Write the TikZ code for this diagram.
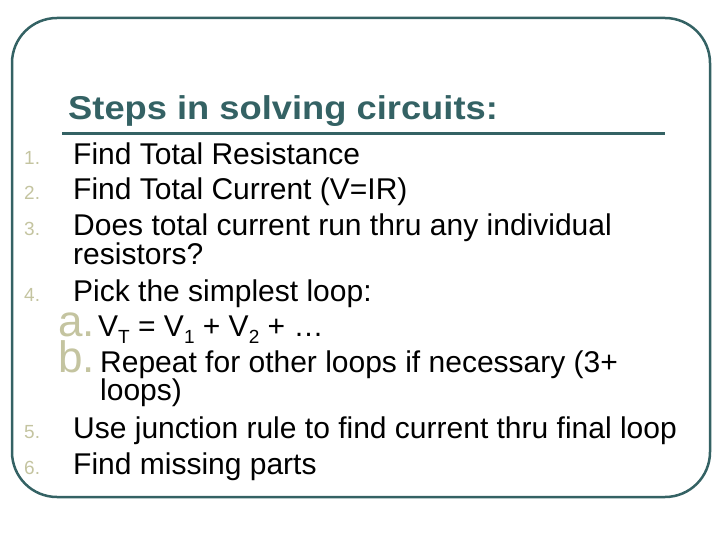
\documentclass[tikz,border=0pt]{standalone}
\usepackage{fontspec}
\setmainfont{Liberation Sans}
\definecolor{teal1}{RGB}{52,98,100}
\definecolor{numc}{RGB}{196,196,160}
\newcommand{\mysub}[1]{\raisebox{-0.25em}{\fontsize{19}{19}\selectfont #1}}
\begin{document}
\begin{tikzpicture}[x=1pt,y=-1pt,
  txt/.style={anchor=base west,inner sep=0,font=\fontsize{30}{30}\selectfont},
  num/.style={anchor=base west,inner sep=0,text=numc,font=\fontsize{19}{19}\selectfont},
  let/.style={anchor=base west,inner sep=0,text=numc,font=\fontsize{44}{44}\selectfont}]
\useasboundingbox (0,0) rectangle (720,540);
\draw[teal1,line width=2.5,rounded corners=45] (12,18) rectangle (710,497);
\node[anchor=base west,inner sep=0,text=teal1,xscale=1.1,font=\fontsize{33}{33}\selectfont\bfseries] (title) at (68,120) {Steps in solving circuits:};
\draw[teal1,line width=3] (62,134) -- (665,134);
\node[num] (n1) at (24,165) {1.};
\node[txt] (t1) at (73,165) {Find Total Resistance};
\node[num] (n2) at (24,200) {2.};
\node[txt] (t2) at (73,200) {Find Total Current (V=IR)};
\node[num] (n3) at (24,236) {3.};
\node[txt] (t3) at (73,236) {Does total current run thru any individual};
\node[txt] (t3b) at (73,264) {resistors?};
\node[num] (n4) at (24,301) {4.};
\node[txt] (t4) at (73,301) {Pick the simplest loop:};
\node[let] (la) at (58,336) {a.};
\node[txt] (ta) at (98,336) {V\mysub{T} = V\mysub{1} + V\mysub{2} + \ldots};
\node[let] (lb) at (58,372) {b.};
\node[txt] (tb) at (100,372) {Repeat for other loops if necessary (3+};
\node[txt] (tb2) at (100,400) {loops)};
\node[num] (n5) at (24,438) {5.};
\node[txt] (t5) at (73,438) {Use junction rule to find current thru final loop};
\node[num] (n6) at (24,474) {6.};
\node[txt] (t6) at (73,474) {Find missing parts};
\end{tikzpicture}
\end{document}
